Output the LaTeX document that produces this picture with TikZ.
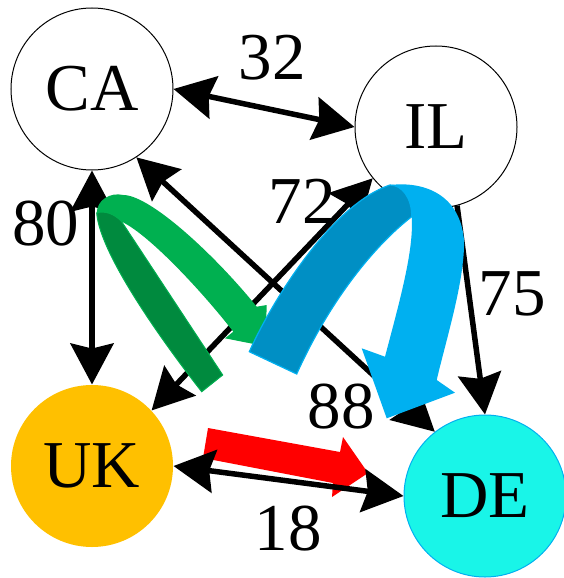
\documentclass[tikz,border=0pt]{standalone}
\usepackage{fontspec}
\setmainfont{Liberation Serif}
\usepackage{xcolor}
\usepackage{tikz}
\usetikzlibrary{arrows.meta}

\definecolor{ukorange}{HTML}{FFC000}
\definecolor{decyan}{HTML}{19F5E8}
\definecolor{greenlight}{HTML}{00B050}
\definecolor{greendark}{HTML}{008A3E}
\definecolor{bluelight}{HTML}{00B0F0}
\definecolor{bluedark}{HTML}{008FC4}

\begin{document}
\begin{tikzpicture}[x=1pt, y=-1pt, font=\fontsize{67}{80}\selectfont]
	\useasboundingbox (0,0) rectangle (563,578);
	% Define styles
	\tikzstyle{state}=[circle, draw=black, line width=1pt, minimum size=162pt, inner sep=0pt]
	\tikzstyle{flow}=[line width=5.5pt, >={Stealth[length=41pt, width=43pt, inset=5pt]}, <->]
	\tikzstyle{weight}=[anchor=base, inner sep=0pt]

	\node[state] (CA) at (92,89) {CA};
	\node[state] (IL) at (436,127) {IL};
	\node[state, draw=none, fill=ukorange] (UK) at (92,466) {UK};
	\node[state, draw=bluelight, fill=decyan] (DE) at (485,496) {DE};

	% red block arrow (under the links)
	\fill[red] (208,428) -- (340,452) -- (343,437) -- (368,473) -- (332,497) -- (333,483) -- (203,458) -- cycle;

	\draw[flow] (CA.east) -- (IL.west);
	\draw[flow] (CA.south) -- (UK.north);
	\draw[flow] (IL.219) -- (UK.43);
	\draw[flow] (CA.303) -- (DE.128);
	\draw[flow, <-] (DE.north) -- (IL.285);
	\draw[flow] (UK.east) -- (DE.west);

		\node[weight] (w32) at (272,80) {32};
		\node[weight] (w80) at (46,245) {80};
		\node[weight] (w72) at (302,223) {72};
		\node[weight] (w88) at (341,428) {88};
		\node[weight] (w75) at (512,315) {75};
		\node[weight] (w18) at (288,550) {18};

	% green curved arrow
	\filldraw[fill=greendark, draw=greenlight, line width=1pt] (201.7,391.7) -- (222.7,375) -- (121.7,221.7) .. controls (115,214) and (104,210) .. (96.7,213) .. controls (100,255) and (165,345) .. (201.7,391.7) -- cycle;
	\fill[greenlight] (96.7,213) .. controls (97,200) and (110,192) .. (123.3,195) .. controls (150,195) and (215,255) .. (256.7,306.7) -- (266.7,305) -- (265.5,346.3) -- (225,338.3) -- (233.3,331.7) .. controls (205,295) and (150,235) .. (121.7,221.7) .. controls (115,214) and (104,210) .. (96.7,213) -- cycle;

	% blue curved arrow
	\filldraw[fill=bluedark, draw=bluelight, line width=1.2pt] (249.3,351.7) .. controls (270,305) and (330,205) .. (390,185) .. controls (402,185) and (412,198) .. (411.7,216.7) .. controls (375,245) and (330,300) .. (296.7,374) -- cycle;
	\fill[bluelight] (390,185) .. controls (425,181) and (460,195) .. (464,240) .. controls (465,280) and (446,340) .. (436.7,380) -- (455,392.7) -- (386.7,418.3) -- (361.7,348.3) -- (385,356.7) .. controls (400,300) and (414,250) .. (411.7,216.7) .. controls (412,198) and (402,185) .. (390,185) -- cycle;
\end{tikzpicture}
\end{document}
